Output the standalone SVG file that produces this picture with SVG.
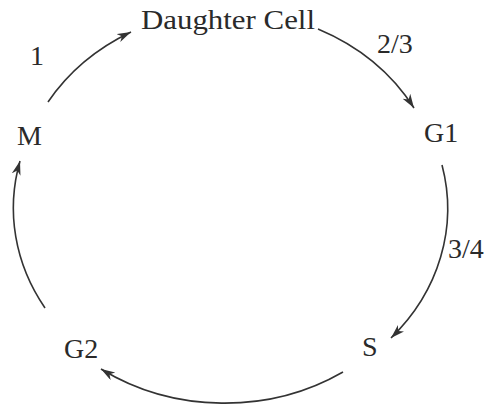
<svg xmlns="http://www.w3.org/2000/svg" width="487" height="407" viewBox="0 0 487 407">
<defs>
<style>
text{font-family:"Liberation Serif","Times New Roman",serif;font-size:28px;fill:#2a2a2a}
.arc{fill:none;stroke:#333;stroke-width:1.6;marker-end:url(#ah)}
</style>
<marker id="ah" markerUnits="userSpaceOnUse" markerWidth="16" markerHeight="10" refX="14" refY="4.5" orient="auto">
<path d="M0,0 L14,4.5 L0,9 L4,4.5 z" fill="#333"/>
</marker>
</defs>
<rect width="487" height="407" fill="#fff"/>
<g id="connectors">
<path class="arc" d="M48,102 A217 192 0 0 1 131,32"/>
<path class="arc" d="M318,29 A217 192 0 0 1 414,108"/>
<path class="arc" d="M442,165 A217 192 0 0 1 391,338"/>
<path class="arc" d="M343,372 A217 192 0 0 1 101,369"/>
<path class="arc" d="M45,308 A217 192 0 0 1 20,161"/>
</g>
<g id="daughter"><text x="141" y="29" textLength="174" lengthAdjust="spacingAndGlyphs">Daughter Cell</text></g>
<g id="g1"><text x="424" y="142">G1</text></g>
<g id="s"><text x="362" y="356">S</text></g>
<g id="g2"><text x="64" y="358">G2</text></g>
<g id="m"><text x="17" y="145">M</text></g>
<g id="labels">
<text x="30" y="65">1</text>
<text x="377" y="53">2/3</text>
<text x="448" y="258">3/4</text>
</g>
</svg>
